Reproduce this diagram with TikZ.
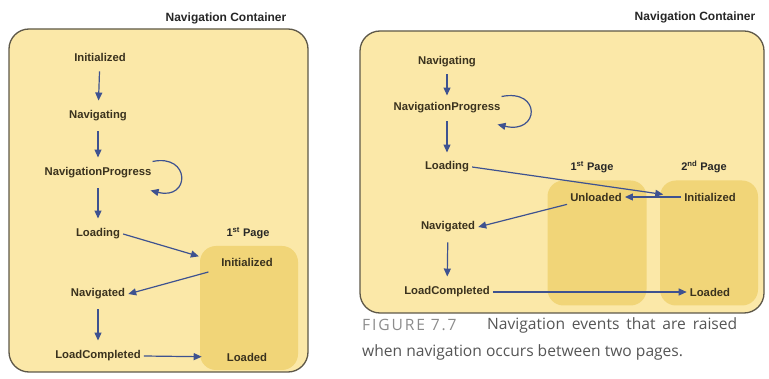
\documentclass[tikz,border=0pt]{standalone}
\usepackage{fontspec}
\setmainfont{Liberation Sans}
\newfontfamily\capfont{Open Sans}
\usepackage{tikz}
\usetikzlibrary{arrows.meta}
\definecolor{panel}{HTML}{FBE8A8}
\definecolor{pagefill}{HTML}{F1D578}
\definecolor{rim}{HTML}{5E5848}
\definecolor{flow}{HTML}{3E5290}
\definecolor{ink}{HTML}{3A321E}
\definecolor{capgray}{HTML}{8C8C8C}
\definecolor{captext}{HTML}{555555}

\begin{document}
\begin{tikzpicture}[x=1pt, y=-1pt,
    evt/.style={font=\fontsize{11.3}{12}\selectfont\bfseries, text=ink, inner sep=3pt},
    hdr/.style={font=\fontsize{12}{13}\selectfont\bfseries, text=black!85},
    pagebox/.style={fill=pagefill, rounded corners=16pt, inner sep=0pt},
    container/.style={rim, line width=1.3pt, fill=panel, rounded corners=20pt},
    arr/.style={-{Triangle[length=8pt,width=7pt]}, flow, line width=1.2pt},
    down/.style={arr, shorten <=7pt, shorten >=7pt},
    captxt/.style={font=\capfont\fontsize{15.6}{17}\selectfont, inner sep=0pt, anchor=west}]
\useasboundingbox (0,0) rectangle (769,379);

% Left container: single page
\node[hdr] (title1) at (226,18) {Navigation Container};
\draw[container] (9,29) rectangle (308,372);
\node[pagebox, minimum width=98pt, minimum height=124pt] (pg1) at (249,308) {};
\node[hdr, font=\fontsize{11}{12}\selectfont\bfseries] (page1) at (248,233) {1\textsuperscript{st} Page};

\node[evt] (init1) at (100,57) {Initialized};
\node[evt] (navg1) at (98,116) {Navigating};
\node[evt] (prog1) at (98,173) {NavigationProgress};
\node[evt] (load1) at (98,234) {Loading};
\node[evt] (navd1) at (98,294) {Navigated};
\node[evt] (done1) at (98,356) {LoadCompleted};
\node[evt] (pinit1) at (247,262) {Initialized};
\node[evt] (plded1) at (247,357) {Loaded};

\draw[down] (init1) -- (navg1);
\draw[down] (navg1) -- (prog1);
\draw[down] (prog1) -- (load1);
\draw[down] (navd1) -- (done1);
\draw[arr] ([shift={(-2,-3)}]prog1.north east) .. controls +(38,-8) and +(40,10) .. ([shift={(-4,9)}]prog1.south east);
\draw[arr, shorten >=20pt] (load1.east) -- (pinit1.west);
\draw[arr, shorten <=10pt] (pinit1.south west) -- (navd1.east);
\draw[arr, shorten >=22pt] (done1.east) -- (plded1.west);

% Right container: two pages
\node[hdr] (title2) at (695,17) {Navigation Container};
\draw[container] (360,31) rectangle (764,313);
\node[pagebox, minimum width=99pt, minimum height=125pt] (pg21) at (597,243) {};
\node[pagebox, minimum width=98pt, minimum height=125pt] (pg22) at (709,243) {};
\node[hdr, font=\fontsize{11}{12}\selectfont\bfseries] (page21) at (592,167) {1\textsuperscript{st} Page};
\node[hdr, font=\fontsize{11}{12}\selectfont\bfseries] (page22) at (704,167) {2\textsuperscript{nd} Page};

\node[evt] (navg2) at (447,62) {Navigating};
\node[evt] (prog2) at (447,108) {NavigationProgress};
\node[evt] (load2) at (447,167) {Loading};
\node[evt] (navd2) at (448,227) {Navigated};
\node[evt] (done2) at (447,292) {LoadCompleted};
\node[evt] (unl2) at (596,197) {Unloaded};
\node[evt] (pinit2) at (710,197) {Initialized};
\node[evt] (plded2) at (710,292) {Loaded};

\draw[arr, shorten <=4pt, shorten >=4pt] (navg2) -- (prog2);
\draw[arr, shorten <=5pt, shorten >=6pt] (prog2) -- (load2);
\draw[down] (navd2) -- (done2);
\draw[arr] ([shift={(-2,-3)}]prog2.north east) .. controls +(40,-8) and +(42,10) .. ([shift={(-6,8)}]prog2.south east);
\draw[arr, shorten >=18pt] (load2.east) -- (pinit2.west);
\draw[arr] (pinit2.west) -- (unl2.east);
\draw[arr] (unl2.south west) -- (navd2.east);
\draw[arr] (done2.east) -- (plded2.west);

% Caption
\node[captxt, text=capgray] (figno) at (362,325) {\addfontfeatures{LetterSpace=12}FIGURE 7.7};
\node[captxt, text=captext] (cap1) at (487,325) {\makebox[250pt][s]{Navigation events that are raised}};
\node[captxt, text=captext] (cap2) at (362,352) {when navigation occurs between two pages.};
\end{tikzpicture}
\end{document}
